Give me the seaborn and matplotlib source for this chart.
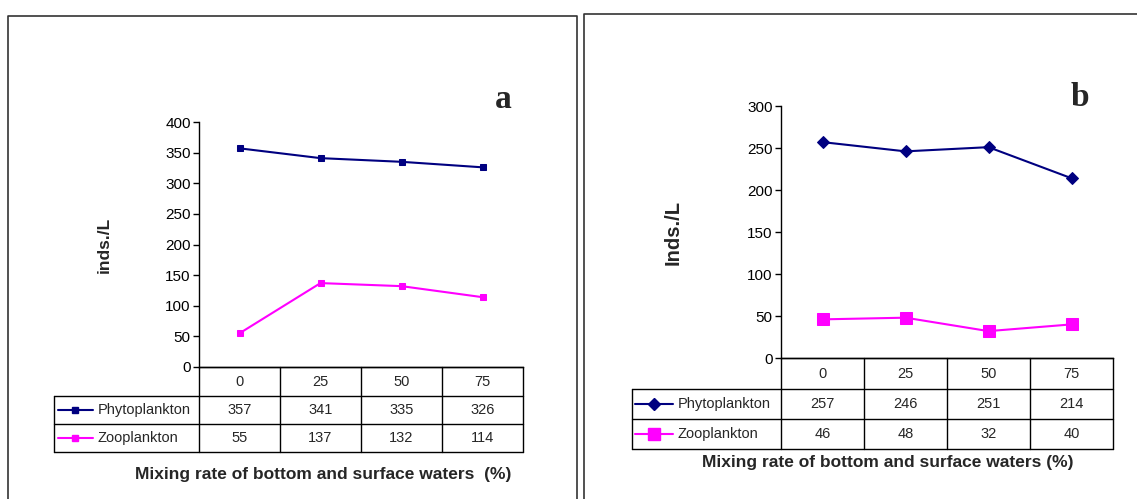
import numpy as np
import pandas as pd
import seaborn as sns
import matplotlib.pyplot as plt
from matplotlib.lines import Line2D

# data
mixing = [0, 25, 50, 75]
phyto_a = [357, 341, 335, 326]
zoo_a = [55, 137, 132, 114]
phyto_b = [257, 246, 251, 214]
zoo_b = [46, 48, 32, 40]
series_names = ['Phytoplankton', 'Zooplankton']

sns.set_style('white')
plt.rcParams['font.family'] = ['Liberation Sans', 'DejaVu Sans']

W, H = 1137, 499
fig = plt.figure(figsize=(W / 100, H / 100), dpi=100)


def px_rect(left, top, right, bottom):
    return [left / W, 1 - bottom / H, (right - left) / W, (bottom - top) / H]


# panel frames
for x0, x1, y0 in [(8, 577, 16), (584, 1140, 14)]:
    fig.add_artist(Line2D([x0 / W, x0 / W, x1 / W, x1 / W], [0, 1 - y0 / H, 1 - y0 / H, 0],
                          transform=fig.transFigure, color='#333333', lw=1.2))


def panel(rect_px, phyto, zoo, ymax, markers, msizes, ylabel, ylab_size, letter,
          rows_px, legend_left, text_left, key_px, ylab_xy, xlab_xy, letter_xy, xlabel):
    left, top, right, bottom = rect_px
    ax = fig.add_axes(px_rect(left, top, right, bottom))
    wpx, hpx = right - left, bottom - top
    colors = {'Phytoplankton': '#000080', 'Zooplankton': '#FF00FF'}
    df = pd.DataFrame({'mix': mixing * 2,
                       'value': phyto + zoo,
                       'group': [series_names[0]] * 4 + [series_names[1]] * 4})
    for name in series_names:
        sub = df[df['group'] == name]
        sns.lineplot(data=sub, x='mix', y='value', color=colors[name], marker=markers[name],
                     markersize=msizes[name], markeredgecolor=colors[name], lw=1.5, ax=ax)
    ax.set_xlim(-12.5, 87.5)
    ax.set_ylim(0, ymax)
    ax.set_yticks(np.arange(0, ymax + 1, 50))
    ax.set_xticks([])
    ax.set_xlabel('')
    ax.set_ylabel(ylabel, fontsize=ylab_size, fontweight='bold')
    ax.yaxis.set_label_coords(*ylab_xy)
    for s in ['top', 'right']:
        ax.spines[s].set_visible(False)
    for s in ['left', 'bottom']:
        ax.spines[s].set_color('black')
        ax.spines[s].set_linewidth(1)
    ax.tick_params(axis='y', left=True, length=4, width=1, labelsize=11, pad=2, colors='black')

    # data table under the axis
    tr = ax.transAxes
    r0, r1, r2 = [-(r - bottom) / hpx for r in rows_px]
    lx = (legend_left - left) / wpx
    kw = dict(transform=tr, color='black', lw=1, clip_on=False)
    ax.add_line(Line2D([0, 0], [0, r2], **kw))
    ax.add_line(Line2D([1, 1], [0, r2], **kw))
    ax.add_line(Line2D([lx, lx], [r0, r2], **kw))
    for yy in [r0, r1, r2]:
        ax.add_line(Line2D([lx, 1], [yy, yy], **kw))
    ax.add_line(Line2D([0, 1], [0, 0], **kw))
    for i in range(1, 4):
        ax.add_line(Line2D([i / 4, i / 4], [0, r2], **kw))
    for i, m in enumerate(mixing):
        xc = (i + 0.5) / 4
        ax.text(xc, r0 / 2, str(m), transform=tr, ha='center', va='center', fontsize=10.5)
        ax.text(xc, (r0 + r1) / 2, str(phyto[i]), transform=tr, ha='center', va='center', fontsize=10.5)
        ax.text(xc, (r1 + r2) / 2, str(zoo[i]), transform=tr, ha='center', va='center', fontsize=10.5)
    tx = (text_left - left) / wpx
    k0, k1, kc = [(k - left) / wpx for k in key_px]
    for name, yc in zip(series_names, [(r0 + r1) / 2, (r1 + r2) / 2]):
        ax.add_line(Line2D([k0, k1], [yc, yc], transform=tr, color=colors[name], lw=1.5, clip_on=False))
        ax.add_line(Line2D([kc], [yc], transform=tr, color=colors[name], marker=markers[name],
                           markersize=msizes[name], clip_on=False))
        ax.text(tx, yc, name, transform=tr, ha='left', va='center', fontsize=10.5)

    ax.text(xlab_xy[0], xlab_xy[1], xlabel, transform=tr, ha='center', va='center',
            fontsize=12.5, fontweight='bold')
    ax.text(letter_xy[0], letter_xy[1], letter, transform=tr, ha='center', va='center',
            fontsize=24, fontweight='bold', family='Liberation Serif')
    return ax


panel((199, 122, 523, 367), phyto_a, zoo_a, 400,
      {'Phytoplankton': 's', 'Zooplankton': 's'}, {'Phytoplankton': 5, 'Zooplankton': 5},
      'inds./L', 12.5, 'a', (396, 424, 452), 54, 98, (58, 93, 75),
      ((112 - 199) / 324, 0.5), ((323 - 199) / 324, -(475 - 367) / 245),
      ((503 - 199) / 324, (367 - 99) / 245),
      'Mixing rate of bottom and surface waters  (%)')

panel((781, 106, 1113, 358), phyto_b, zoo_b, 300,
      {'Phytoplankton': 'D', 'Zooplankton': 's'}, {'Phytoplankton': 6, 'Zooplankton': 8},
      'Inds./L', 14.5, 'b', (389, 419, 449), 632, 678, (635, 673, 654),
      ((683 - 781) / 332, 0.5), ((888 - 781) / 332, -(463 - 358) / 252),
      ((1080 - 781) / 332, (358 - 98) / 252),
      'Mixing rate of bottom and surface waters (%)')

fig.savefig('out.png', dpi=100)
